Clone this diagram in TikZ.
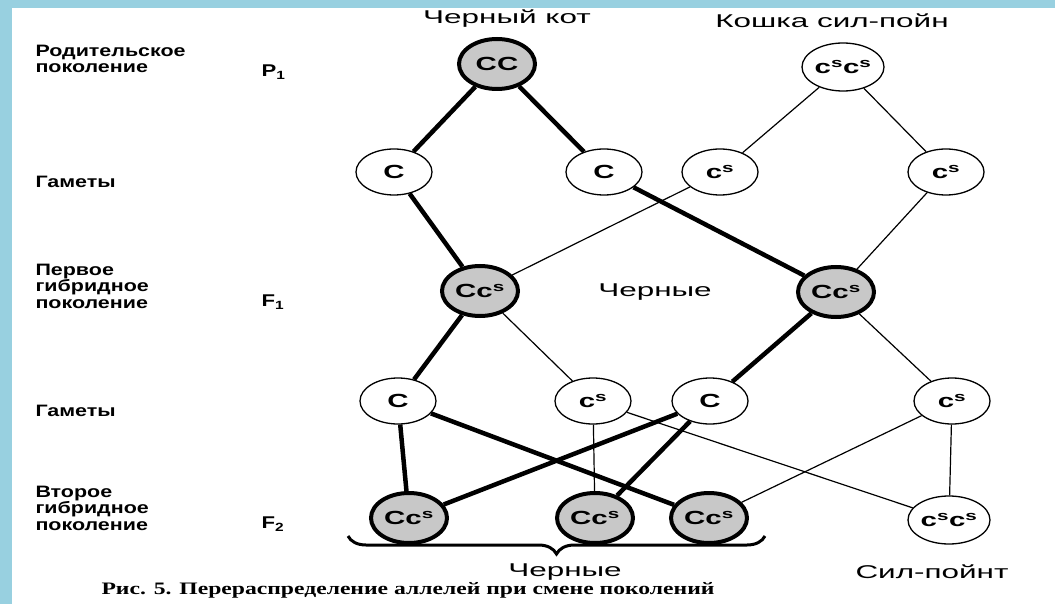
\documentclass[tikz,border=0pt]{standalone}
\usepackage{fontspec}
\setmainfont[FakeStretch=1.55]{Liberation Sans}
\newfontfamily\sidefont[FakeStretch=1.3]{Liberation Sans}
\newfontfamily\notefont[FakeStretch=1.7]{Liberation Sans}
\newfontfamily\capfont[FakeStretch=1.35]{Liberation Serif}
\usetikzlibrary{shapes.geometric,decorations.pathreplacing}

\definecolor{slideblue}{RGB}{152,208,224}
\definecolor{cellgray}{RGB}{200,200,200}

\begin{document}
\begin{tikzpicture}[
    x=1pt, y=-1pt,
    font=\fontsize{16}{18}\selectfont,
    gam/.style={
        ellipse,
        draw=black,
        line width=1.3pt,
        fill=white,
        minimum width=76pt,
        minimum height=46pt,
        inner sep=0pt,
        font=\fontsize{19}{19}\selectfont\bfseries
    },
    dom/.style={gam, line width=4pt, fill=cellgray, minimum width=76pt, minimum height=50pt},
    lbl/.style={anchor=west, align=left, font=\sidefont\fontsize{16.5}{16.5}\selectfont\bfseries},
    gen/.style={anchor=west, font=\sidefont\fontsize{17}{17}\selectfont\bfseries},
    note/.style={font=\notefont\fontsize{18.5}{19}\selectfont},
    heavy/.style={line width=4.5pt},
    light/.style={line width=1.2pt}
]

% slide background
\fill[slideblue] (0,0) rectangle (1055,604);
\fill[white] (12,8) rectangle (1055,604);

% ===== left column =====
\node[lbl] (lp) at (32,59) {Родительское\\поколение};
\node[gen] (gp) at (258,72) {P\textsubscript{1}};
\node[lbl] (lg1) at (32,182) {Гаметы};
\node[lbl] (lf1) at (32,286) {Первое\\гибридное\\поколение};
\node[gen] (gf1) at (258,302) {F\textsubscript{1}};
\node[lbl] (lg2) at (32,411) {Гаметы};
\node[lbl] (lf2) at (32,508) {Второе\\гибридное\\поколение};
\node[gen] (gf2) at (258,524) {F\textsubscript{2}};

% ===== parents =====
\node[note] (tblack) at (507,19) {Черный кот};
\node[note] (tseal) at (832,21) {Кошка сил-пойн};
\node[dom] (pa) at (497,64) {CC};
\node[gam, minimum width=82pt, minimum height=48pt] (pb) at (843,67) {c\textsuperscript{s}c\textsuperscript{s}};

% ===== gametes 1 =====
\node[gam] (ga1) at (394,172) {C};
\node[gam] (ga2) at (604,172) {C};
\node[gam] (ga3) at (720,172) {c\textsuperscript{s}};
\node[gam] (ga4) at (946,172) {c\textsuperscript{s}};

% ===== F1 =====
\node[dom] (fa) at (480,291) {Cc\textsuperscript{s}};
\node[dom] (fb) at (836,292) {Cc\textsuperscript{s}};
\node[note] (tf1) at (655,292) {Черные};

% ===== gametes 2 =====
\node[gam] (gb1) at (398,401) {C};
\node[gam] (gb2) at (593,401) {c\textsuperscript{s}};
\node[gam] (gb3) at (710,401) {C};
\node[gam] (gb4) at (952,401) {c\textsuperscript{s}};

% ===== F2 =====
\node[dom] (sa) at (409,518) {Cc\textsuperscript{s}};
\node[dom] (sb) at (595,518) {Cc\textsuperscript{s}};
\node[dom] (sc) at (709,518) {Cc\textsuperscript{s}};
\node[gam, minimum width=82pt, minimum height=48pt] (sd) at (949,520) {c\textsuperscript{s}c\textsuperscript{s}};

% ===== connectors =====
\draw[heavy] (pa) -- (ga1);
\draw[heavy] (pa) -- (ga2);
\draw[light] (pb) -- (ga3);
\draw[light] (pb) -- (ga4);

\draw[heavy] (ga1) -- (fa);
\draw[light] (ga3) -- (fa);
\draw[heavy] (ga2) -- (fb);
\draw[light] (ga4) -- (fb);

\draw[heavy] (fa) -- (gb1);
\draw[light] (fa) -- (gb2);
\draw[heavy] (fb) -- (gb3);
\draw[light] (fb) -- (gb4);

\draw[heavy] (gb1) -- (sa);
\draw[heavy] (gb1) -- (sc);
\draw[light] (gb2) -- (sb);
\draw[light] (gb2) -- (sd);
\draw[heavy] (gb3) -- (sa);
\draw[heavy] (gb3) -- (sb);
\draw[light] (gb4) -- (sc);
\draw[light] (gb4) -- (sd);

% brace under the black kittens
\coordinate (bl) at (348,536);
\coordinate (br) at (765,536);
\draw[line width=3pt, decorate, decoration={brace, mirror, amplitude=18pt}] (bl) -- (br);
\node[note] (tf2) at (565,572) {Черные};
\node[note] (tsp) at (932,572) {Сил-пойнт};

% caption
\node[anchor=west, font=\capfont\fontsize{17.5}{18}\selectfont\bfseries] (cap) at (98,590)
    {Рис. 5. Перераспределение аллелей при смене поколений};

\end{tikzpicture}
\end{document}
